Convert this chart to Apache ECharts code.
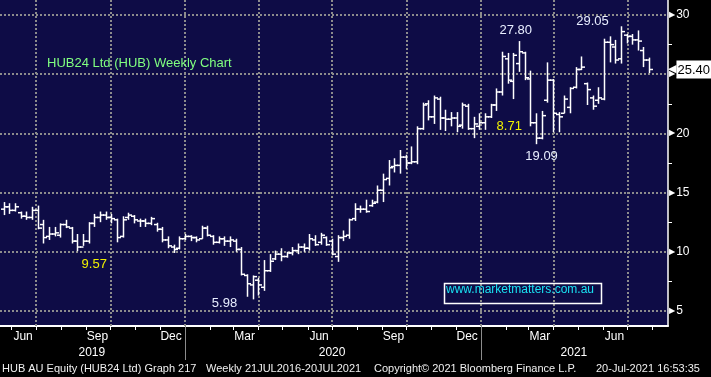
<!DOCTYPE html>
<html>
<head>
<meta charset="utf-8">
<title>HUB24 Ltd (HUB) Weekly Chart</title>
<script src="https://cdn.jsdelivr.net/npm/echarts@6/dist/echarts.min.js"></script>
<style>
  html, body { margin: 0; padding: 0; background: #000; }
  #chart { width: 711px; height: 377px; }
</style>
</head>
<body>
<div id="chart"></div>
<script>
// weekly bars, first week below, one bar every 7 days
var weekStart = '2019-05-22';

var opens = [
  13.6, 13.8, 13.5, 13.3, 13.0, 12.9, 13.5, 12.3, 11.3, 11.5,
  11.4, 12.3, 12.0, 10.9, 10.4, 10.9, 12.4, 12.9, 13.1, 12.9,
  12.7, 11.3, 12.9, 13.0, 12.6, 12.6, 12.4, 12.3, 11.9, 11.0,
  10.4, 10.3, 11.1, 11.3, 11.2, 11.1, 12.0, 11.3, 10.8, 11.1,
  10.9, 10.9, 10.2, 8.0, 7.2, 7.6, 7.0, 8.4, 9.4, 9.8,
  9.6, 9.9, 10.1, 10.4, 10.3, 11.0, 10.8, 11.2, 10.9, 9.6,
  11.2, 11.4, 12.8, 13.6, 13.6, 13.9, 14.2, 15.2, 16.2, 17.2,
  17.3, 18.0, 17.5, 17.6, 20.4, 22.5, 21.4, 22.9, 21.3, 21.2,
  21.3, 20.7, 22.3, 20.4, 20.6, 20.9, 21.4, 22.4, 23.5, 26.3,
  24.4, 25.9, 26.8, 24.6, 20.9, 19.6, 22.8, 24.5, 21.6, 21.7,
  22.2, 23.9, 25.4, 24.2, 23.0, 22.8, 22.9, 27.7, 27.3, 26.3,
  28.3, 28.2, 27.9, 27.0, 26.2
];
var highs = [
  14.2, 14.1, 14.1, 13.4, 13.4, 13.8, 13.9, 12.7, 12.1, 12.1,
  12.4, 12.7, 12.1, 11.5, 11.5, 12.5, 13.2, 13.4, 13.4, 13.2,
  12.8, 13.0, 13.3, 13.1, 12.8, 12.8, 12.95, 12.45, 12.1, 11.3,
  10.6, 11.3, 11.5, 11.4, 11.3, 12.2, 12.2, 11.4, 11.3, 11.3,
  11.3, 11.1, 10.4, 8.1, 8.0, 7.8, 9.3, 9.8, 10.1, 10.3,
  10.0, 10.4, 10.7, 10.7, 11.5, 11.4, 11.6, 11.3, 11.1, 11.4,
  11.8, 12.8, 14.1, 13.9, 14.4, 14.4, 15.6, 16.6, 17.75, 17.9,
  18.6, 18.2, 18.9, 20.6, 22.6, 22.8, 23.2, 23.1, 22.0, 21.8,
  21.8, 22.6, 22.5, 21.4, 21.7, 21.7, 22.5, 23.8, 26.9, 26.8,
  26.8, 27.8, 26.9, 25.3, 21.7, 21.9, 26.0, 24.6, 21.8, 23.2,
  23.9, 25.6, 26.5, 24.3, 23.2, 23.9, 28.0, 28.2, 27.9, 29.05,
  28.4, 28.4, 28.7, 27.3, 26.4
];
var lows = [
  13.1, 13.2, 13.4, 12.8, 12.7, 12.7, 11.9, 10.7, 11.0, 11.3,
  11.2, 12.0, 10.7, 10.05, 10.5, 10.7, 12.1, 12.5, 12.7, 12.4,
  10.8, 11.2, 12.7, 12.4, 12.1, 12.1, 12.25, 11.7, 10.8, 10.3,
  9.9, 10.2, 11.0, 10.9, 10.8, 11.1, 11.3, 10.6, 10.7, 10.5,
  10.4, 10.0, 8.0, 6.2, 5.98, 6.3, 6.7, 8.3, 9.3, 9.2,
  9.5, 9.7, 9.8, 10.0, 10.1, 10.5, 10.6, 10.5, 9.7, 9.15,
  10.9, 11.1, 12.6, 13.3, 13.3, 13.8, 14.1, 14.2, 15.6, 16.7,
  16.6, 17.0, 17.4, 17.4, 20.3, 21.1, 20.8, 20.3, 20.2, 20.6,
  20.1, 20.4, 20.3, 19.6, 20.3, 20.3, 21.3, 21.9, 23.2, 24.2,
  22.9, 25.2, 24.5, 20.6, 19.09, 19.5, 22.6, 20.1, 20.1, 21.7,
  21.7, 23.8, 25.35, 22.4, 22.0, 22.5, 22.8, 26.0, 25.9, 25.9,
  27.6, 27.5, 27.0, 25.6, 25.1
];
var closes = [
  13.8, 13.5, 13.8, 13.0, 12.9, 13.5, 12.0, 11.2, 11.5, 11.6,
  12.3, 12.1, 10.9, 10.4, 10.9, 12.4, 12.9, 13.1, 12.9, 12.8,
  11.2, 12.7, 13.1, 12.7, 12.6, 12.4, 12.8, 11.9, 11.0, 10.5,
  10.2, 11.1, 11.3, 11.2, 11.0, 12.0, 11.4, 10.8, 11.1, 10.9,
  11.0, 10.2, 8.1, 7.3, 7.9, 7.2, 8.4, 9.2, 9.8, 9.6,
  9.9, 10.1, 10.4, 10.3, 11.1, 10.6, 11.4, 10.6, 9.8, 11.2,
  11.3, 12.7, 13.6, 13.6, 13.4, 14.1, 15.2, 16.1, 17.1, 17.3,
  18.0, 17.5, 17.6, 20.4, 22.4, 21.4, 23.0, 21.3, 21.2, 21.3,
  20.6, 22.4, 20.4, 20.8, 20.9, 21.4, 22.4, 23.5, 26.5, 24.5,
  26.6, 26.9, 24.7, 20.9, 19.6, 21.5, 24.5, 21.7, 21.4, 22.9,
  23.8, 25.4, 25.6, 23.7, 22.3, 23.0, 27.7, 27.5, 26.2, 28.6,
  28.2, 27.9, 27.8, 26.2, 25.4
];
var lastPrice = 25.40;

var axisStart = '2019-05-17T12:00:00';
var axisEnd = '2021-08-20T07:00:00';
var quarterLines = ['2019-07-01', '2019-10-01', '2020-01-01', '2020-04-01', '2020-07-01',
                    '2020-10-01', '2021-01-01', '2021-04-01', '2021-07-01'];
var monthLabelDates = ['2019-06-15', '2019-09-15', '2019-12-15', '2020-03-15', '2020-06-15',
                       '2020-09-15', '2020-12-15', '2021-03-15', '2021-06-15'];
var monthLabels = ['Jun', 'Sep', 'Dec', 'Mar', 'Jun', 'Sep', 'Dec', 'Mar', 'Jun'];
var yearLabelDates = ['2019-09-08', '2020-07-01', '2021-04-26'];
var yearLabels = ['2019', '2020', '2021'];
var yearBreaks = ['2020-01-01', '2021-01-01'];

var DAY = 864e5;
function ts(s) {
  return new Date(s.length > 10 ? s : s + 'T00:00:00').getTime();
}
function pick(dates, texts, v) {
  for (var i = 0; i < dates.length; i++) {
    if (Math.abs(ts(dates[i]) - v) < DAY) return texts[i];
  }
  return '';
}

var ohlc = opens.map(function (o, i) {
  return [ts(weekStart) + i * 7 * DAY, o, highs[i], lows[i], closes[i]];
});

var monthStarts = [];
for (var d = new Date(2019, 5, 1); d <= new Date(2021, 7, 1); d.setMonth(d.getMonth() + 1)) {
  monthStarts.push(d.getTime());
}

var FONT = 'Liberation Sans';
var chart = echarts.init(document.getElementById('chart'));

function renderBar(params, api) {
  var t = api.value(0);
  var pO = api.coord([t, api.value(1)]);
  var pH = api.coord([t, api.value(2)]);
  var pL = api.coord([t, api.value(3)]);
  var pC = api.coord([t, api.value(4)]);
  var x = Math.round(pO[0]) + 0.5;
  var style = { stroke: '#ffffff', lineWidth: 1.5 };
  return {
    type: 'group',
    children: [
      { type: 'line', shape: { x1: x, y1: pH[1], x2: x, y2: pL[1] }, style: style },
      { type: 'line', shape: { x1: x - 3.5, y1: pO[1], x2: x, y2: pO[1] }, style: style },
      { type: 'line', shape: { x1: x, y1: pC[1], x2: x + 3.5, y2: pC[1] }, style: style }
    ]
  };
}

function note(date, value, text, color) {
  return {
    name: text,
    coord: [ts(date), value],
    label: { color: color }
  };
}

// time on a plain value axis (milliseconds), so custom tick lists work
var option = {
  backgroundColor: '#000000',
  animation: false,
  grid: {
    left: 0, right: 43, top: 0, bottom: 51,
    show: true, backgroundColor: '#0e0c46', borderWidth: 0,
    outerBoundsMode: 'none'
  },
  xAxis: [
    {
      type: 'value',
      min: ts(axisStart),
      max: ts(axisEnd),
      axisLine: { show: true, lineStyle: { color: '#ffffff', width: 2 } },
      axisTick: { show: true, customValues: monthStarts, length: 4, lineStyle: { color: '#ffffff', width: 1 } },
      axisLabel: {
        customValues: monthLabelDates.map(ts),
        formatter: function (v) { return pick(monthLabelDates, monthLabels, v); },
        color: '#ffffff', fontSize: 12, fontFamily: FONT, margin: 5
      },
      splitLine: { show: false }
    },
    {
      type: 'value',
      position: 'bottom',
      min: ts(axisStart),
      max: ts(axisEnd),
      axisLine: { show: false },
      axisTick: { show: true, customValues: yearBreaks.map(ts), length: 34, lineStyle: { color: '#8c8c8c', width: 1 } },
      axisLabel: {
        customValues: yearLabelDates.map(ts),
        formatter: function (v) { return pick(yearLabelDates, yearLabels, v); },
        color: '#ffffff', fontSize: 12, fontFamily: FONT, margin: 21
      },
      splitLine: { show: false }
    }
  ],
  yAxis: {
    type: 'value',
    position: 'right',
    min: 3.73,
    max: 31.27,
    axisLine: { show: true, lineStyle: { color: '#ffffff', width: 1.5 } },
    axisTick: { show: false },
    minorTick: { show: true, splitNumber: 2, length: 4, lineStyle: { color: '#ffffff', width: 1 } },
    axisLabel: {
      showMinLabel: false,
      showMaxLabel: false,
      margin: 1,
      formatter: function (v) { return '{t|\u25B6}{v|' + v + '}'; },
      rich: {
        t: { color: '#ffffff', fontSize: 8, fontFamily: 'DejaVu Sans' },
        v: { color: '#ffffff', fontSize: 12, fontFamily: FONT, padding: [0, 0, 0, 1] }
      }
    },
    splitLine: {
      show: true, showMinLine: false, showMaxLine: false,
      lineStyle: { color: '#8c8c8c', type: [2, 2], width: 2 }
    }
  },
  series: [
    {
      name: 'grid',
      type: 'line',
      data: ohlc.map(function (r) { return [r[0], r[4]]; }),
      symbol: 'none',
      silent: true,
      z: 1,
      lineStyle: { opacity: 0 },
      markLine: {
        silent: true,
        z: 1,
        symbol: ['none', 'none'],
        label: { show: false },
        lineStyle: { color: '#8c8c8c', type: [2, 2], width: 2 },
        data: quarterLines.map(function (q) { return { xAxis: ts(q) }; })
      }
    },
    {
      name: 'HUB',
      type: 'custom',
      z: 5,
      silent: true,
      renderItem: renderBar,
      encode: { x: 0, y: [1, 2, 3, 4] },
      data: ohlc
    },
    {
      name: 'notes',
      type: 'line',
      data: ohlc.map(function (r) { return [r[0], r[4]]; }),
      symbol: 'none',
      silent: true,
      z: 20,
      lineStyle: { width: 0, color: 'rgba(0,0,0,0)' },
      markLine: {
        silent: true,
        z: 20,
        symbol: ['none', 'none'],
        lineStyle: { width: 0, color: 'rgba(0,0,0,0)' },
        label: {
          show: true,
          position: 'end',
          distance: 0,
          formatter: function () { return '{a|\u25C0}{b|' + lastPrice.toFixed(2) + '}'; },
          rich: {
            a: { color: '#ffffff', fontSize: 11, fontFamily: 'DejaVu Sans', padding: [0, 0, 0, 0] },
            b: {
              color: '#000000', backgroundColor: '#ffffff',
              fontSize: 13, fontFamily: FONT, padding: [3, 2, 2, 1]
            }
          }
        },
        data: [{ yAxis: lastPrice }]
      },
      markPoint: {
        silent: true,
        z: 20,
        symbol: 'circle',
        symbolSize: 1,
        itemStyle: { color: 'transparent' },
        label: {
          show: true,
          position: 'inside',
          formatter: '{b}',
          fontSize: 13,
          fontFamily: FONT
        },
        data: [
          note('2021-02-13', 28.73, '27.80', '#e8eeff'),
          note('2021-05-19', 29.43, '29.05', '#e8eeff'),
          note('2021-02-05', 20.56, '8.71', '#f0f000'),
          note('2021-03-17', 18.08, '19.09', '#e8eeff'),
          note('2019-09-11', 8.95, '9.57', '#f0f000'),
          note('2020-02-19', 5.61, '5.98', '#e8eeff')
        ]
      }
    }
  ],
  graphic: [
    {
      type: 'text', left: 47, top: 57, z: 30,
      style: { text: 'HUB24 Ltd (HUB) Weekly Chart', fill: '#80ff80', font: '13px "Liberation Sans"' }
    },
    {
      type: 'rect', left: 442, top: 281, z: 30,
      shape: { width: 157, height: 20 },
      style: { fill: 'none', stroke: '#ffffff', lineWidth: 1.5 }
    },
    {
      type: 'text', left: 446, top: 284, z: 31,
      style: { text: 'www.marketmatters.com.au', fill: '#19e3f2', font: '12px "Liberation Sans"' }
    },
    {
      type: 'text', left: 2, top: 363,
      style: { text: 'HUB AU Equity (HUB24 Ltd) Graph 217', fill: '#f0f0f0', font: '11px "Liberation Sans"' }
    },
    {
      type: 'text', left: 206, top: 363,
      style: { text: 'Weekly 21JUL2016-20JUL2021', fill: '#f0f0f0', font: '11px "Liberation Sans"' }
    },
    {
      type: 'text', left: 374, top: 363,
      style: { text: 'Copyright\u00A9 2021 Bloomberg Finance L.P.', fill: '#f0f0f0', font: '11px "Liberation Sans"' }
    },
    {
      type: 'text', left: 596, top: 363,
      style: { text: '20-Jul-2021 16:53:35', fill: '#f0f0f0', font: '11px "Liberation Sans"' }
    }
  ]
};

chart.setOption(option);
</script>
</body>
</html>
